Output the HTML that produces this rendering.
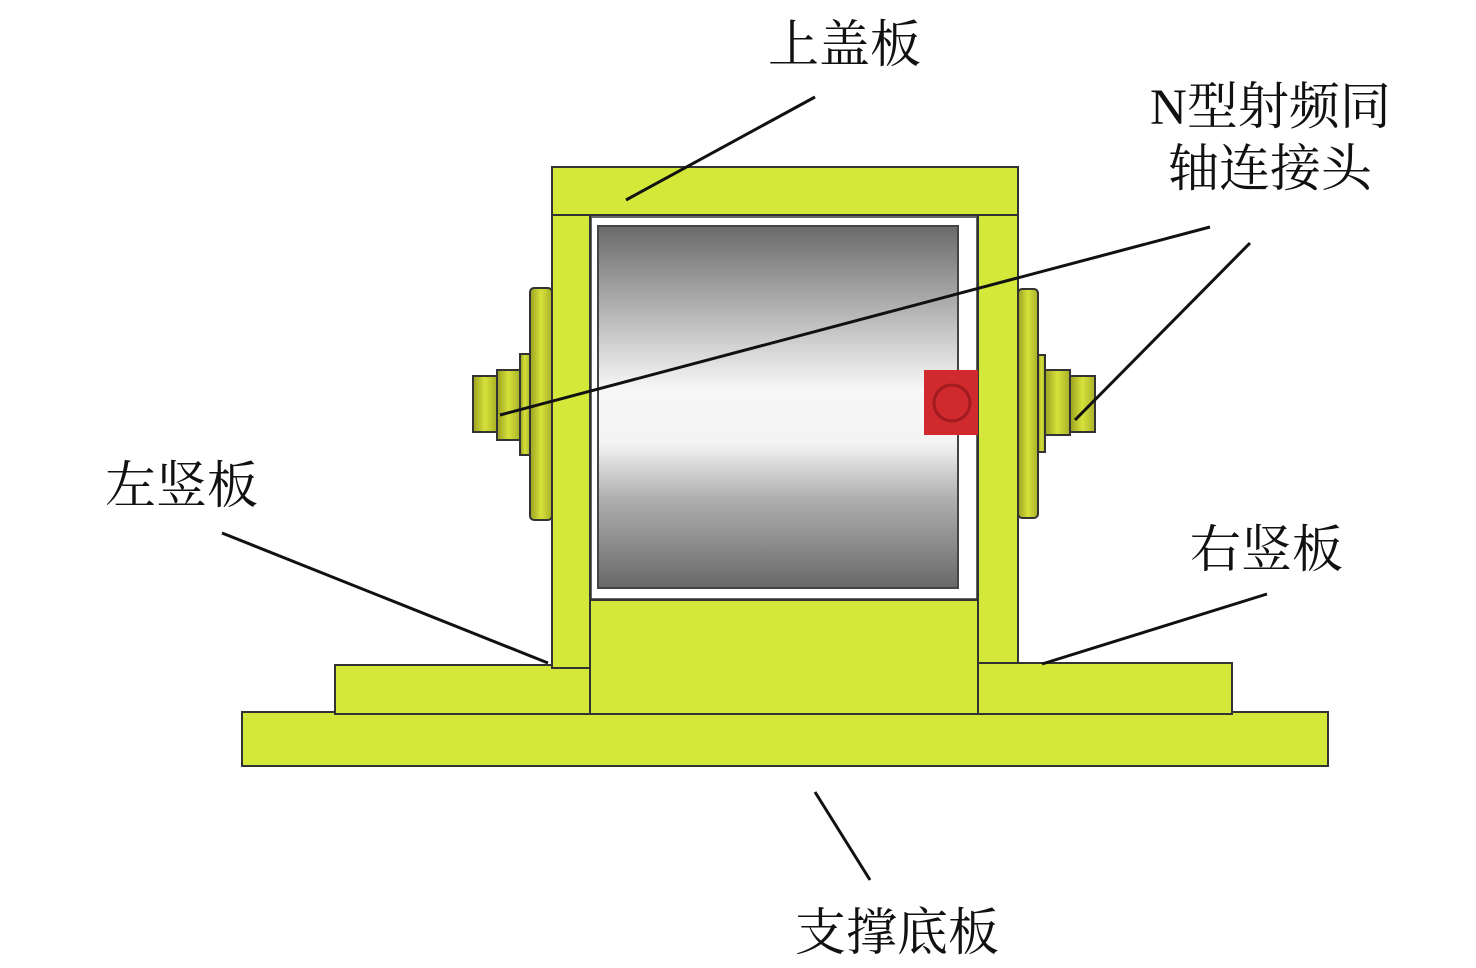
<!DOCTYPE html>
<html><head><meta charset="utf-8"><style>
html,body{margin:0;padding:0;background:#fff;}
svg{display:block;}
text{font-family:"Liberation Serif","Noto Serif CJK SC",serif;font-size:51px;fill:#111;}
</style></head><body>
<svg width="1476" height="968" viewBox="0 0 1476 968" xmlns="http://www.w3.org/2000/svg">
<defs>
<linearGradient id="cyl" x1="0" y1="0" x2="0" y2="1">
<stop offset="0" stop-color="#6a6a6a"/>
<stop offset="0.35" stop-color="#d8d8d8"/>
<stop offset="0.45" stop-color="#f6f6f6"/>
<stop offset="0.6" stop-color="#f4f4f4"/>
<stop offset="0.75" stop-color="#b0b0b0"/>
<stop offset="1" stop-color="#686868"/>
</linearGradient>
<linearGradient id="fl" x1="0" y1="0" x2="1" y2="0">
<stop offset="0" stop-color="#9aa020"/>
<stop offset="0.5" stop-color="#d6e23a"/>
<stop offset="1" stop-color="#a8b028"/>
</linearGradient>
</defs>
<g stroke="#333" stroke-width="2" fill="#d4e83a">
<rect x="242" y="712" width="1086" height="54"/>
<rect x="335" y="665" width="255" height="49"/>
<rect x="978" y="663" width="254" height="51"/>
<rect x="590" y="600" width="388" height="114"/>
<rect x="552" y="215" width="38" height="453"/>
<rect x="978" y="215" width="40" height="448"/>
<rect x="552" y="167" width="466" height="48"/>
<rect x="530" y="288" width="22" height="232" rx="4" fill="url(#fl)"/>
<rect x="520" y="354" width="10" height="101" fill="url(#fl)"/>
<rect x="497" y="370" width="23" height="70" fill="url(#fl)"/>
<rect x="473" y="376" width="24" height="56" fill="url(#fl)"/>
<rect x="1018" y="289" width="20" height="229" rx="4" fill="url(#fl)"/>
<rect x="1038" y="355" width="7" height="97" fill="url(#fl)"/>
<rect x="1045" y="370" width="25" height="65" fill="url(#fl)"/>
<rect x="1070" y="376" width="25" height="56" fill="url(#fl)"/>
</g>
<rect x="591" y="217" width="386" height="382" fill="#fff" stroke="#333" stroke-width="1.5"/>
<rect x="598" y="226" width="360" height="362" fill="url(#cyl)" stroke="#444" stroke-width="2"/>
<rect x="924" y="370" width="54" height="65" fill="#d02a2e"/>
<circle cx="952" cy="403" r="18" fill="none" stroke="#a01c20" stroke-width="3"/>
<g stroke="#111" stroke-width="3" fill="none">
<line x1="815" y1="97" x2="626" y2="200"/>
<line x1="1210" y1="227" x2="500" y2="415"/>
<line x1="1250" y1="243" x2="1075" y2="420"/>
<line x1="222" y1="533" x2="548" y2="663"/>
<line x1="1267" y1="594" x2="1042" y2="664"/>
<line x1="815" y1="792" x2="870" y2="880"/>
</g>
<text x="768" y="62">上盖板</text>
<text x="1150" y="124">N型射频同</text>
<text x="1168" y="186">轴连接头</text>
<text x="105" y="503">左竖板</text>
<text x="1190" y="567">右竖板</text>
<text x="795" y="950">支撑底板</text>
</svg>
</body></html>
